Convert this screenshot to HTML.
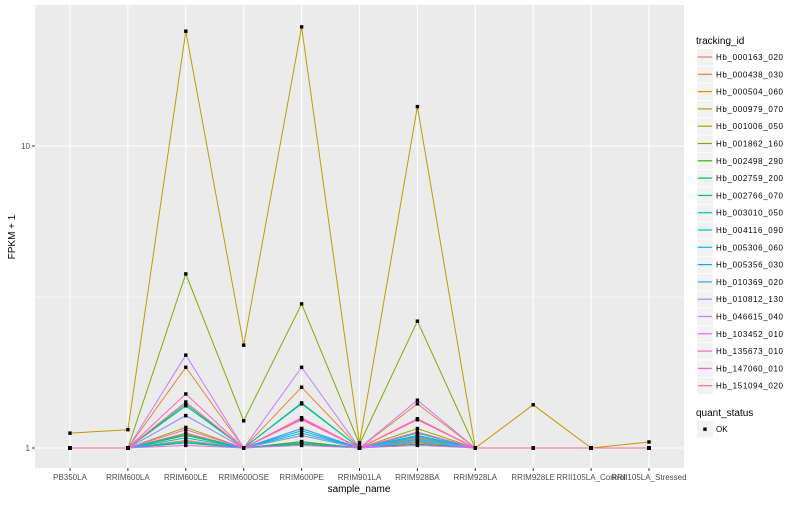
<!DOCTYPE html>
<html><head><meta charset="utf-8"><style>
body{margin:0;background:#fff;font-family:"Liberation Sans",sans-serif}
svg text{font-family:"Liberation Sans",sans-serif}
</style></head><body>
<svg id="chart" width="800" height="500" xmlns="http://www.w3.org/2000/svg"></svg>
<script>
const samples=["PB350LA","RRIM600LA","RRIM600LE","RRIM600OSE","RRIM600PE","RRIM901LA","RRIM928BA","RRIM928LA","RRIM928LE","RRII105LA_Control","RRII105LA_Stressed"];
const genes=["Hb_000163_020","Hb_000438_030","Hb_000504_060","Hb_000979_070","Hb_001006_050","Hb_001862_160","Hb_002498_290","Hb_002759_200","Hb_002766_070","Hb_003010_050","Hb_004116_090","Hb_005306_060","Hb_005356_030","Hb_010369_020","Hb_010812_130","Hb_046615_040","Hb_103452_010","Hb_135673_010","Hb_147060_010","Hb_151094_020"];
const colors=["#F8766D","#EA8331","#D89000","#C09B00","#A3A500","#7CAE00","#39B600","#00BB4E","#00BF7D","#00C1A3","#00BFC4","#00BAE0","#00B0F6","#35A2FF","#9590FF","#C77CFF","#E76BF3","#FA62DB","#FF62BC","#FF6C91"];
const values=[
[1,1,1.06,1,1.05,1,1.04,1,1,1,1],
[1,1,1.85,1,1.59,1,1.40,1,1,1,1],
[1,1,1.12,1,1.10,1,1.08,1,1,1,1],
[1.12,1.15,24.0,2.19,24.8,1.04,13.5,1,1.39,1,1.047],
[1,1,1.17,1,1.16,1,1.16,1,1,1,1],
[1,1,3.77,1.23,3.0,1.03,2.63,1,1,1,1],
[1,1,1.10,1,1.05,1,1.06,1,1,1,1],
[1,1,1.04,1,1.03,1,1.03,1,1,1,1],
[1,1,1.38,1,1.41,1,1.12,1,1,1,1],
[1,1,1.40,1,1.40,1,1.10,1,1,1,1],
[1,1,1.05,1,1.04,1,1.05,1,1,1,1],
[1,1,1.08,1,1.12,1,1.07,1,1,1,1],
[1,1,1.11,1,1.14,1,1.10,1,1,1,1],
[1,1,1.28,1,1.16,1,1.09,1,1,1,1],
[1,1,1.28,1,1.10,1,1.06,1,1,1,1],
[1,1,2.03,1,1.85,1,1.44,1,1,1,1],
[1,1,1.02,1,1.02,1,1.02,1,1,1,1],
[1,1,1.15,1,1.24,1,1.13,1,1,1,1],
[1,1,1.51,1,1.26,1,1.25,1,1,1,1],
[1,1,1.42,1,1.25,1,1.24,1,1,1,1]];
const yTicks=[1,10];
const yTickLabels=["1","10"];

const svg=document.getElementById('chart');
const NS="http://www.w3.org/2000/svg";
function mk(t,a,p){const e=document.createElementNS(NS,t);for(const k in a)e.setAttribute(k,a[k]);(p||svg).appendChild(e);return e;}
const PL=35,PR=684,PT=5,PB=468;
const x0=70,dx=57.9;
function xs(i){return x0+i*dx;}
function ys(v){return 448-Math.log10(v)*302;}

const panel=mk('rect',{x:PL,y:PT,width:PR-PL,height:PB-PT,fill:'#EBEBEB'});


const minor=mk('line',{x1:PL,x2:PR,y1:ys(Math.sqrt(10)),y2:ys(Math.sqrt(10)),stroke:'#fff','stroke-width':0.5});


yTicks.forEach((t,i)=>{
  const g=mk('line',{x1:PL,x2:PR,y1:ys(t),y2:ys(t),stroke:'#fff','stroke-width':1.1});
  
  
  const tk=mk('line',{x1:PL-3,x2:PL,y1:ys(t),y2:ys(t),stroke:'#333'});
  
  
  const tl=mk('text',{x:PL-5,y:ys(t)+3,'font-size':8,'text-anchor':'end',fill:'#4D4D4D'});
  tl.textContent=yTickLabels[i];
  
  
});
samples.forEach((s,i)=>{
  const g=mk('line',{x1:xs(i),x2:xs(i),y1:PT,y2:PB,stroke:'#fff','stroke-width':1.1});
  
  
  const tk=mk('line',{x1:xs(i),x2:xs(i),y1:PB,y2:PB+3,stroke:'#333'});
  
  
  const tl=mk('text',{x:xs(i),y:480,'font-size':8,'text-anchor':'middle',fill:'#4D4D4D'});
  tl.textContent=s;
  
  
});
values.forEach((row,g)=>{
  const pts=row.map((v,i)=>xs(i).toFixed(1)+','+ys(v).toFixed(1)).join(' ');
  const pl=mk('polyline',{points:pts,fill:'none',stroke:colors[g],'stroke-width':1});
  
  
});
values.forEach((row,g)=>{
  row.forEach((v,i)=>{
    const p=mk('rect',{x:xs(i)-1.7,y:ys(v)-1.7,width:3.4,height:3.4,fill:'#000'});
    
    
  });
});
const yl=mk('text',{x:15,y:237,'font-size':10,'text-anchor':'middle',fill:'#000',transform:'rotate(-90 15 237)'});
yl.textContent='FPKM + 1';


const xl=mk('text',{x:359,y:492,'font-size':10,'text-anchor':'middle',fill:'#000'});
xl.textContent='sample_name';


const lt=mk('text',{x:696,y:44,'font-size':10,fill:'#000'});
lt.textContent='tracking_id';


genes.forEach((gn,i)=>{
  const y=49+i*17.3;
  const k=mk('rect',{x:697,y:y,width:16,height:16.5,fill:'#F2F2F2'});
  
  
  const l=mk('line',{x1:698,x2:712,y1:y+8,y2:y+8,stroke:colors[i],'stroke-width':1.2});
  
  
  const t=mk('text',{x:716,y:y+11,'font-size':8,fill:'#000',textLength:67});
  t.textContent=gn;
  
  
});
const qt=mk('text',{x:696,y:416,'font-size':10,fill:'#000'});
qt.textContent='quant_status';


const qk=mk('rect',{x:697,y:421,width:16,height:16.5,fill:'#F2F2F2'});


const qp=mk('rect',{x:703.3,y:427.5,width:3.4,height:3.4,fill:'#000'});


const qtx=mk('text',{x:716,y:432,'font-size':8,fill:'#000'});
qtx.textContent='OK';


</script>
</body></html>
